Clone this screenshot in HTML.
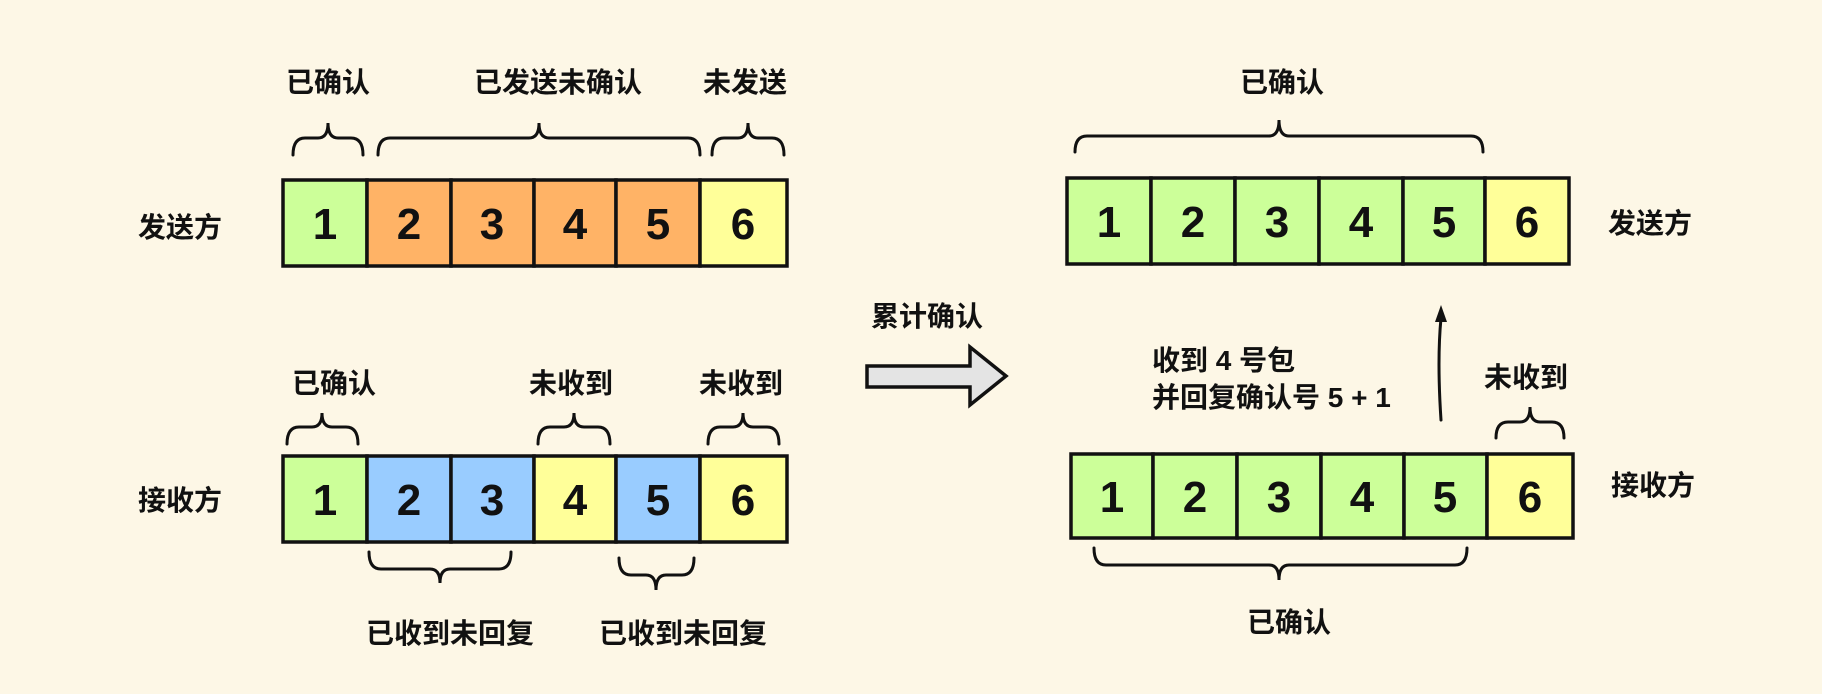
<!DOCTYPE html>
<html><head><meta charset="utf-8"><style>
html,body{margin:0;padding:0;background:#fdf7e6;}
svg{display:block}
text{font-family:"Liberation Sans","Noto Sans CJK SC",sans-serif;font-weight:bold;fill:#111;}
.d{font-size:44px;font-weight:bold;font-family:"Liberation Sans Narrow","DejaVu Sans Condensed","Liberation Sans",sans-serif;}
.l{font-size:28px;}
</style></head><body>
<svg width="1822" height="694" viewBox="0 0 1822 694" xmlns="http://www.w3.org/2000/svg">
<rect width="1822" height="694" fill="#fdf7e6"/>
<g stroke="#111" stroke-width="3.5">
<rect x="283" y="180" width="84" height="86" fill="#ccff99"/>
<rect x="367" y="180" width="84" height="86" fill="#ffb366"/>
<rect x="451" y="180" width="83" height="86" fill="#ffb366"/>
<rect x="534" y="180" width="82" height="86" fill="#ffb366"/>
<rect x="616" y="180" width="84" height="86" fill="#ffb366"/>
<rect x="700" y="180" width="87" height="86" fill="#ffff99"/>
<rect x="283" y="456" width="84" height="86" fill="#ccff99"/>
<rect x="367" y="456" width="84" height="86" fill="#99ccff"/>
<rect x="451" y="456" width="83" height="86" fill="#99ccff"/>
<rect x="534" y="456" width="82" height="86" fill="#ffff99"/>
<rect x="616" y="456" width="84" height="86" fill="#99ccff"/>
<rect x="700" y="456" width="87" height="86" fill="#ffff99"/>
<rect x="1067" y="178" width="84" height="86" fill="#ccff99"/>
<rect x="1151" y="178" width="84" height="86" fill="#ccff99"/>
<rect x="1235" y="178" width="84" height="86" fill="#ccff99"/>
<rect x="1319" y="178" width="84" height="86" fill="#ccff99"/>
<rect x="1403" y="178" width="82" height="86" fill="#ccff99"/>
<rect x="1485" y="178" width="84" height="86" fill="#ffff99"/>
<rect x="1071" y="454" width="82" height="84" fill="#ccff99"/>
<rect x="1153" y="454" width="84" height="84" fill="#ccff99"/>
<rect x="1237" y="454" width="84" height="84" fill="#ccff99"/>
<rect x="1321" y="454" width="83" height="84" fill="#ccff99"/>
<rect x="1404" y="454" width="83" height="84" fill="#ccff99"/>
<rect x="1487" y="454" width="86" height="84" fill="#ffff99"/>
</g>
<g class="d" text-anchor="middle">
<text x="325" y="239">1</text><text x="409" y="239">2</text><text x="492" y="239">3</text><text x="575" y="239">4</text><text x="658" y="239">5</text><text x="743" y="239">6</text>
<text x="325" y="515">1</text><text x="409" y="515">2</text><text x="492" y="515">3</text><text x="575" y="515">4</text><text x="658" y="515">5</text><text x="743" y="515">6</text>
<text x="1109" y="237">1</text><text x="1193" y="237">2</text><text x="1277" y="237">3</text><text x="1361" y="237">4</text><text x="1444" y="237">5</text><text x="1527" y="237">6</text>
<text x="1112" y="512">1</text><text x="1195" y="512">2</text><text x="1279" y="512">3</text><text x="1362" y="512">4</text><text x="1445" y="512">5</text><text x="1530" y="512">6</text>
</g>
<g fill="none" stroke="#111" stroke-width="3" stroke-linecap="round">
<path d="M293 155 Q293 138 305 138 L318 138 Q328 138 328 123 Q328 138 338 138 L351 138 Q363 138 363 155"/>
<path d="M378 155 Q378 138 390 138 L529 138 Q539 138 539 123 Q539 138 549 138 L688 138 Q700 138 700 155"/>
<path d="M712 155 Q712 138 724 138 L738 138 Q748 138 748 123 Q748 138 758 138 L772 138 Q784 138 784 155"/>
<path d="M287 444 Q287 427 299 427 L312 427 Q322 427 322 413 Q322 427 332 427 L346 427 Q358 427 358 444"/>
<path d="M538 444 Q538 427 550 427 L564 427 Q574 427 574 413 Q574 427 584 427 L598 427 Q610 427 610 444"/>
<path d="M708 444 Q708 427 720 427 L733 427 Q743 427 743 413 Q743 427 753 427 L767 427 Q779 427 779 444"/>
<path d="M1075 152 Q1075 136 1087 136 L1269 136 Q1279 136 1279 120 Q1279 136 1289 136 L1471 136 Q1483 136 1483 152"/>
<path d="M1496 438 Q1496 422 1508 422 L1520 422 Q1530 422 1530 407 Q1530 422 1540 422 L1552 422 Q1564 422 1564 438"/>
<path d="M369 552 Q369 569 381 569 L430 569 Q440 569 440 583 Q440 569 450 569 L499 569 Q511 569 511 552"/>
<path d="M619 558 Q619 575 631 575 L646 575 Q656 575 656 590 Q656 575 666 575 L682 575 Q694 575 694 558"/>
<path d="M1094 548 Q1094 565 1106 565 L1269 565 Q1279 565 1279 580 Q1279 565 1289 565 L1455 565 Q1467 565 1467 548"/>
<path d="M1441 420 Q1437 360 1441 318"/>
</g>
<path d="M1441 305 L1435 322 L1447 322 Z" fill="#111"/>
<path d="M867 366 L970 366 L970 347 L1006 376 L970 405 L970 387 L867 387 Z" fill="#e4e4e4" stroke="#111" stroke-width="3.5" stroke-linejoin="miter"/>
<g class="l" text-anchor="middle">
<text x="328" y="92">已确认</text>
<text x="558" y="92">已发送未确认</text>
<text x="745" y="92">未发送</text>
<text x="180" y="237">发送方</text>
<text x="334" y="393">已确认</text>
<text x="571" y="393">未收到</text>
<text x="741" y="393">未收到</text>
<text x="180" y="510">接收方</text>
<text x="450" y="643">已收到未回复</text>
<text x="683" y="643">已收到未回复</text>
<text x="927" y="326">累计确认</text>
<text x="1282" y="92">已确认</text>
<text x="1650" y="233">发送方</text>
<text x="1653" y="495">接收方</text>
<text x="1526" y="387">未收到</text>
<text x="1289" y="632">已确认</text>
</g>
<g class="l">
<text x="1152" y="370">收到 4 号包</text>
<text x="1152" y="407">并回复确认号 5 + 1</text>
</g>
</svg>
</body></html>
